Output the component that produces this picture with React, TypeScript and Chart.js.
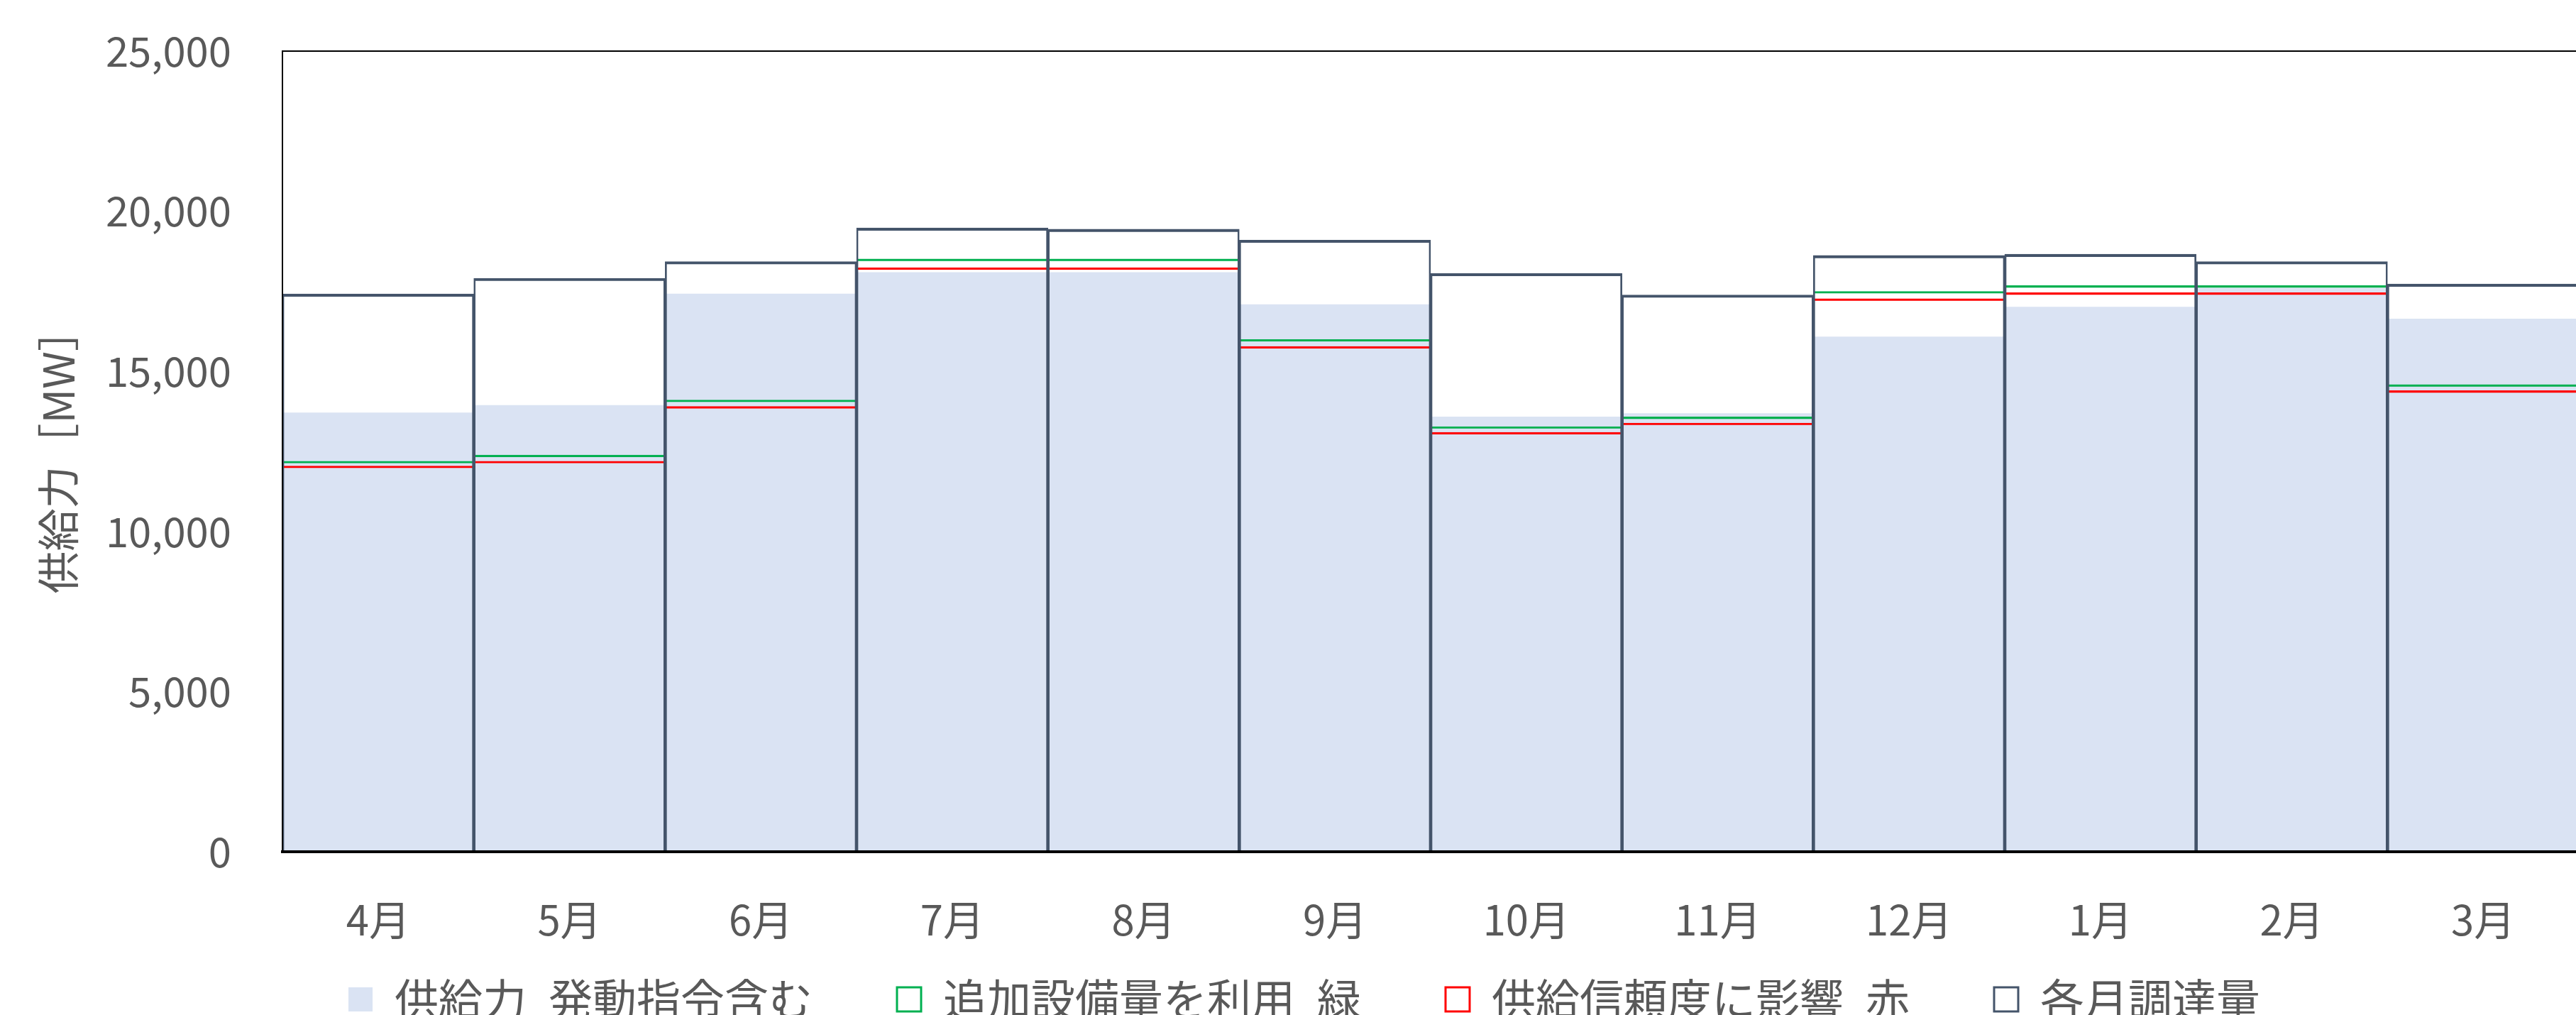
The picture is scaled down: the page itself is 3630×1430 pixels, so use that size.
import React, { useEffect, useRef } from 'react';
import { Chart, registerables } from 'chart.js';

Chart.register(...registerables);

const months = ['4月', '5月', '6月', '7月', '8月', '9月', '10月', '11月', '12月', '1月', '2月', '3月'];
const supplyWithDispatch = [13700, 13930, 17410, 18080, 18080, 17080, 13570, 13680, 16070, 17000, 17590, 16630];
const additionalCapacityGreen = [12190, 12380, 14100, 18500, 18500, 15990, 13270, 13570, 17490, 17670, 17670, 14580];
const reliabilityImpactRed = [12040, 12190, 13900, 18230, 18230, 15770, 13090, 13380, 17260, 17450, 17450, 14390];
const monthlyProcurement = [17410, 17900, 18420, 19470, 19430, 19090, 18050, 17380, 18610, 18650, 18420, 17720];
const seriesNames = ['供給力\u2002発動指令含む', '追加設備量を利用\u2002緑', '供給信頼度に影響\u2002赤', '各月調達量'];
const yTickValues = [0, 5000, 10000, 15000, 20000, 25000];
const yAxisTitle = '供給力［MW］';

const FONT = '"Noto Sans CJK JP", "Noto Sans", sans-serif';
const TEXT = '#595959';

export default function App() {
  const ref = useRef<HTMLCanvasElement | null>(null);

  useEffect(() => {
    const canvas = ref.current;
    if (!canvas) return;
    const legendFill = ['#DAE3F3', '#FFFFFF', '#FFFFFF', '#FFFFFF'];
    const legendStroke = ['#DAE3F3', '#00B050', '#FF0000', '#44546A'];
    const legendLine = [0, 3, 3, 3];

    const chart = new Chart(canvas, {
      type: 'bar',
      data: {
        labels: months,
        datasets: [
          {
            label: seriesNames[0],
            data: supplyWithDispatch,
            backgroundColor: '#DAE3F3',
            borderWidth: 0,
            order: 4,
          },
          {
            label: seriesNames[1],
            data: additionalCapacityGreen,
            backgroundColor: 'rgba(0,0,0,0)',
            borderColor: '#00B050',
            borderWidth: { top: 2.5, left: 0, right: 0, bottom: 0 },
            order: 3,
          },
          {
            label: seriesNames[2],
            data: reliabilityImpactRed,
            backgroundColor: 'rgba(0,0,0,0)',
            borderColor: '#FF0000',
            borderWidth: { top: 2.5, left: 0, right: 0, bottom: 0 },
            order: 2,
          },
          {
            label: seriesNames[3],
            data: monthlyProcurement,
            backgroundColor: 'rgba(0,0,0,0)',
            borderColor: '#44546A',
            borderWidth: { top: 3.5, left: 2, right: 2, bottom: 0 },
            order: 1,
          },
        ],
      },
      options: {
        responsive: false,
        maintainAspectRatio: false,
        animation: false,
        layout: { padding: { left: 42, right: 42, top: 71.5, bottom: 11 } },
        datasets: {
          bar: { grouped: false, categoryPercentage: 1, barPercentage: 1 },
        },
        plugins: {
          tooltip: { enabled: false },
          legend: {
            position: 'bottom',
            labels: {
              color: TEXT,
              font: { family: FONT, size: 62 },
              boxWidth: 34,
              boxHeight: 34,
              padding: 119,
              generateLabels: (c: any) =>
                c.data.datasets.map((ds: any, i: number) => ({
                  text: ds.label,
                  fillStyle: legendFill[i],
                  strokeStyle: legendStroke[i],
                  lineWidth: legendLine[i],
                  hidden: false,
                  datasetIndex: i,
                  fontColor: TEXT,
                })),
            },
          },
        },
        scales: {
          x: {
            grid: { display: false, drawTicks: false },
            border: { display: true, color: '#000000', width: 4, z: 1 },
            ticks: { color: TEXT, font: { family: FONT, size: 58 }, padding: 61, maxRotation: 0, autoSkip: false },
            afterFit: (s: any) => {
              s.height = 58;
              s._computeLabelArea = () => undefined;
            },
          },
          y: {
            min: 0,
            max: 25000,
            afterBuildTicks: (s: any) => {
              s.ticks = yTickValues.map((v) => ({ value: v }));
            },
            ticks: {
              color: TEXT,
              font: { family: FONT, size: 58 },
              padding: 72,
              callback: (v: any) => Number(v).toLocaleString('en-US'),
            },
            grid: {
              drawTicks: false,
              lineWidth: 2,
              color: (ctx: any) => (ctx.tick && ctx.tick.value === 25000 ? '#000000' : 'rgba(0,0,0,0)'),
            },
            border: { display: true, color: '#000000', width: 2, z: 1 },
            title: {
              display: true,
              text: yAxisTitle,
              color: TEXT,
              font: { family: FONT, size: 60 },
              padding: { top: 4, bottom: 0 },
            },
            afterFit: (s: any) => {
              s.width = 356;
              s.paddingTop = 0;
              s.paddingBottom = 0;
            },
          },
        },
      },
    } as any);

    return () => {
      chart.destroy();
    };
  }, []);

  return (
    <div
      style={{
        position: 'fixed',
        left: 0,
        top: 0,
        width: 3630,
        height: 1430,
        overflow: 'hidden',
        background: '#ffffff',
      }}
    >
      <canvas ref={ref} width={3676} height={1460} style={{ display: 'block', width: 3676, height: 1460 }} />
    </div>
  );
}
